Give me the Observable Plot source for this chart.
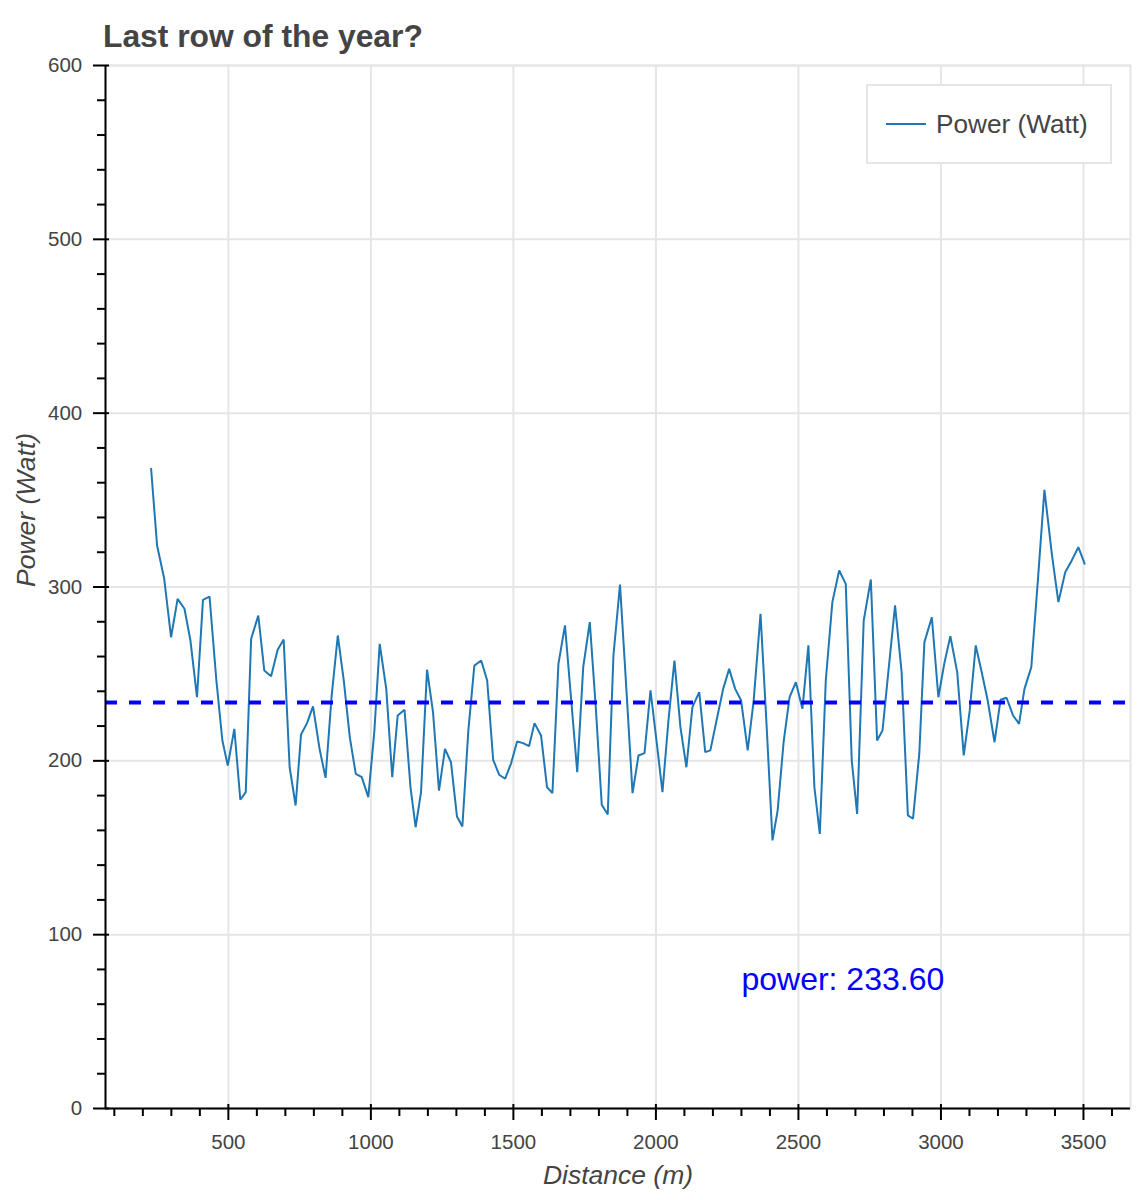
<!DOCTYPE html>
<html>
<head>
<meta charset="utf-8">
<script src="https://cdn.jsdelivr.net/npm/d3@7"></script>
<script src="https://cdn.jsdelivr.net/npm/@observablehq/plot@0.6"></script>
<style>
  body { margin: 0; background: #fff; font-family: "Liberation Sans", Arial, Helvetica, sans-serif; }
  #wrap { position: relative; width: 1140px; height: 1200px; }
  #title { height: 56px; box-sizing: border-box; padding-top: 19.7px; padding-left: 103px; font-weight: bold; font-size: 31.8px; line-height: 32px; color: #444; white-space: nowrap; }
  #legend { position: absolute; left: 866px; top: 84px; width: 246px; height: 80px; box-sizing: border-box; border: 2px solid #e5e5e5; background: rgba(255,255,255,0.95); }
  #legend .swatch { position: absolute; left: 18px; top: 37px; width: 40px; height: 2px; background: #1f77b4; }
  #legend .lab { position: absolute; left: 68px; top: 25.1px; font-size: 26.2px; line-height: 26.2px; color: #444; white-space: nowrap; }
</style>
</head>
<body>
<div id="wrap">
  <div id="title"></div>
  <div id="chart"></div>
  <div id="legend"><div class="swatch"></div><div class="lab"></div></div>
</div>
<script>
// ---- data ----
const titleText = "Last row of the year?";
const seriesName = "Power (Watt)";
const xLabel = "Distance (m)";
const yLabel = "Power (Watt)";

const distances = [229,250,275,299,322,346,367,390,411,434,458,479,498,521,542,561,580,605,626,650,673,694,715,736,755,776,797,820,841,862,884,905,926,947,968,991,1012,1031,1054,1075,1094,1118,1139,1157,1176,1197,1218,1239,1260,1281,1302,1321,1342,1363,1387,1408,1429,1450,1471,1492,1513,1534,1555,1574,1597,1618,1637,1658,1681,1702,1724,1745,1768,1789,1810,1831,1851,1874,1896,1918,1939,1960,1981,2002,2023,2044,2065,2086,2107,2128,2152,2173,2191,2215,2236,2257,2278,2299,2322,2343,2367,2388,2409,2427,2448,2469,2491,2514,2535,2556,2575,2596,2619,2643,2666,2687,2706,2729,2754,2776,2795,2816,2839,2862,2884,2902,2924,2942,2968,2991,3012,3033,3057,3080,3101,3122,3143,3164,3188,3209,3230,3253,3274,3293,3317,3340,3363,3389,3412,3436,3459,3482,3504];

const powers = [368.0,323.9,304.7,271.1,293.2,287.5,269.2,236.6,292.6,294.5,246.2,211.7,197.3,218.4,177.6,182.0,270.2,283.6,252.0,248.7,263.9,269.8,196.3,174.3,215.2,221.7,231.3,206.9,190.2,236.6,272.1,246.2,213.6,192.5,190.6,179.1,216.5,267.3,241.4,190.6,226.1,229.4,184.8,161.8,182.0,252.4,228.0,182.9,206.9,199.2,168.0,162.2,217.5,254.8,257.7,246.2,200.6,192.0,189.7,198.6,211.1,210.2,208.4,221.7,214.6,184.8,181.4,255.8,277.9,236.6,193.5,253.9,279.8,230.9,174.7,169.1,260.6,301.4,242.4,181.4,203.1,204.4,240.5,211.7,182.0,223.2,257.7,219.4,196.3,230.9,239.5,205.0,206.0,225.1,241.4,252.9,241.4,234.7,206.0,234.7,284.6,221.3,154.2,171.4,210.7,236.6,245.2,229.9,266.4,184.8,158.0,246.2,291.3,309.5,301.8,200.2,169.5,280.7,304.3,211.7,217.5,252.0,289.4,251.0,168.6,166.7,204.1,268.3,282.6,236.6,256.2,271.7,251.0,203.1,229.0,266.4,251.0,234.7,210.7,235.1,236.3,226.1,221.3,241.4,253.9,303.7,355.9,319.1,291.3,308.5,315.3,322.9,313.4];

const meanPower = 233.6;
const meanLabel = "power: 233.60";
const labelPos = {x: 2300, y: 68};

const xDomain = [69, 3665];
const yDomain = [0, 600];
const xTicks = [500, 1000, 1500, 2000, 2500, 3000, 3500];
const yTicks = [0, 100, 200, 300, 400, 500, 600];
const xMinorTicks = d3.range(100, 3700, 100).filter(d => d % 500 !== 0);
const yMinorTicks = d3.range(20, 600, 20).filter(d => d % 100 !== 0);

// ---- build ----
const rows = distances.map((d, i) => ({distance: d, power: powers[i]}));
document.getElementById("title").textContent = titleText;
document.querySelector("#legend .lab").textContent = seriesName;

const font = '"Liberation Sans", Arial, Helvetica, sans-serif';
const axisColor = "#000";
const textColor = "#444";
const gridColor = "#e5e5e5";
const plain = d => String(d);

const chart = Plot.plot({
  width: 1140,
  height: 1144,
  marginLeft: 105,
  marginRight: 10,
  marginTop: 9,
  marginBottom: 92,
  x: {domain: xDomain},
  y: {domain: yDomain},
  style: {fontFamily: font, background: "#fff", overflow: "visible"},
  marks: [
    Plot.frame({stroke: gridColor, strokeWidth: 2}),
    Plot.gridX(xTicks, {stroke: gridColor, strokeOpacity: 1, strokeWidth: 2}),
    Plot.gridY(yTicks, {stroke: gridColor, strokeOpacity: 1, strokeWidth: 2}),
    Plot.line(rows, {x: "distance", y: "power", stroke: "#1f77b4", strokeWidth: 2, strokeLinejoin: "miter"}),
    Plot.ruleY([meanPower], {stroke: "#0000ff", strokeWidth: 4, strokeDasharray: "12,12"}),
    Plot.text([meanLabel], {x: labelPos.x, y: labelPos.y, text: d => d, textAnchor: "start", lineAnchor: "bottom", fill: "#0000ff", fontSize: 32}),
    // axis lines
    Plot.ruleX([xDomain[0]], {stroke: axisColor, strokeWidth: 2}),
    Plot.ruleY([yDomain[0]], {stroke: axisColor, strokeWidth: 2}),
    // x ticks
    Plot.ruleX(xTicks, {x: d => d, y1: yDomain[0], y2: yDomain[0], insetTop: -4, insetBottom: -12, stroke: axisColor, strokeWidth: 2}),
    Plot.ruleX(xMinorTicks, {x: d => d, y1: yDomain[0], y2: yDomain[0], insetTop: 0, insetBottom: -8, stroke: axisColor, strokeWidth: 2}),
    // y ticks
    Plot.ruleY(yTicks, {y: d => d, x1: xDomain[0], x2: xDomain[0], insetLeft: -12, insetRight: -4, stroke: axisColor, strokeWidth: 2}),
    Plot.ruleY(yMinorTicks, {y: d => d, x1: xDomain[0], x2: xDomain[0], insetLeft: -8, insetRight: 0, stroke: axisColor, strokeWidth: 2}),
    // tick labels
    Plot.axisX(xTicks, {tickSize: 0, tickPadding: 25.7, tickFormat: plain, color: textColor, fontSize: 20.5, label: null}),
    Plot.axisY(yTicks, {tickSize: 0, tickPadding: 23.3, tickFormat: plain, color: textColor, fontSize: 20.5, label: null}),
    // axis titles
    Plot.text([xLabel], {text: d => d, frameAnchor: "bottom", dy: 75.3, lineAnchor: "bottom", fontStyle: "italic", fontSize: 26.5, fill: textColor}),
    Plot.text([yLabel], {text: d => d, frameAnchor: "left", dx: -71, rotate: -90, lineAnchor: "bottom", fontStyle: "italic", fontSize: 26.5, fill: textColor})
  ]
});
document.getElementById("chart").appendChild(chart);
</script>
</body>
</html>
